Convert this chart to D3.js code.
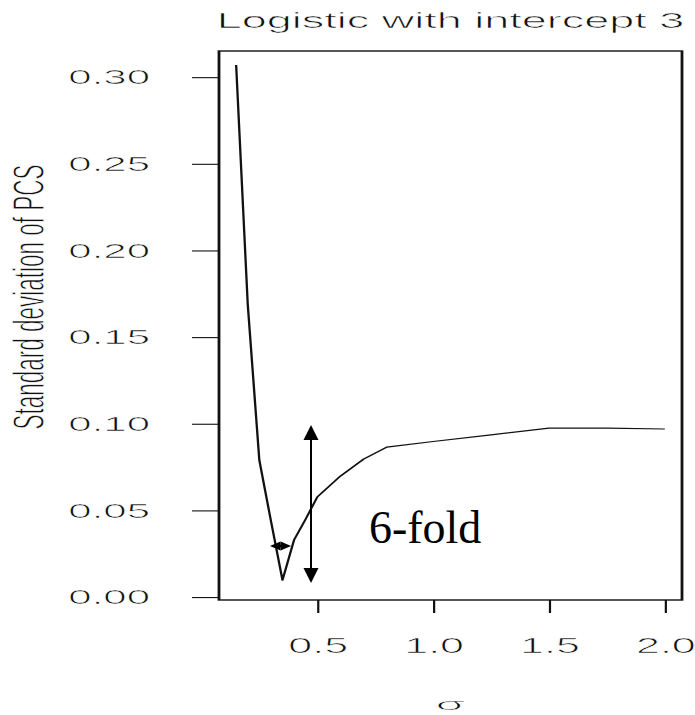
<!DOCTYPE html>
<html>
<head>
<meta charset="utf-8">
<script src="https://cdn.jsdelivr.net/npm/d3@7"></script>
<style>
  html, body { margin: 0; padding: 0; background: #fff; }
  svg { display: block; }
  .lbl { stroke: #fff; stroke-width: 0.6px; paint-order: fill stroke; }
</style>
</head>
<body>
<script>
// Standard deviation of PCS against sigma (logistic model, intercept 3)
const sigma  = [0.15, 0.20, 0.25, 0.30, 0.35, 0.40, 0.45, 0.50, 0.60, 0.70, 0.80, 1.00, 1.25, 1.50, 1.75, 2.00];
const sdPCS  = [0.307, 0.169, 0.079, 0.044, 0.0098, 0.033, 0.045, 0.0577, 0.0698, 0.0796, 0.0865, 0.0898, 0.0936, 0.0975, 0.0975, 0.097];
const xTicks = [0.5, 1.0, 1.5, 2.0];
const yTicks = [0.00, 0.05, 0.10, 0.15, 0.20, 0.25, 0.30];

// Annotation: vertical range arrow, small horizontal arrow, and its label
const foldArrow  = { x: 0.473, y0: 0.0081, y1: 0.0993 };
const widthArrow = { y: 0.0295, x0: 0.296, x1: 0.387 };
const foldLabel  = { x: 0.723, y: 0.0312, text: "6-fold" };

const W = 695, H = 715;
const SX = 2; // plot is drawn at half width and stretched horizontally
const plotL = 219, plotR = 682, plotT = 51, plotB = 600;

const xDomain = [0.076, 2.074];
const yDomain = [-0.0017, 0.3151];

const xPix  = d3.scaleLinear().domain(xDomain).range([plotL, plotR]);
const xHalf = d3.scaleLinear().domain(xDomain).range([plotL / SX, plotR / SX]);
const y     = d3.scaleLinear().domain(yDomain).range([plotB, plotT]);

const svg = d3.select("body").append("svg")
  .attr("width", W).attr("height", H)
  .attr("viewBox", `0 0 ${W} ${H}`);

svg.append("rect").attr("width", W).attr("height", H).attr("fill", "#fff");

const g = svg.append("g").attr("transform", `scale(${SX},1)`);
const font = "'Liberation Sans', Arial, Helvetica, sans-serif";

// Curve
const line = d3.line()
  .x((d, i) => xHalf(sigma[i]))
  .y(d => y(d));
g.append("path")
  .datum(sdPCS)
  .attr("d", line)
  .attr("fill", "none")
  .attr("stroke", "#111")
  .attr("stroke-width", 1.15)
  .attr("stroke-linejoin", "round");

// Y axis
const yAxis = g.append("g")
  .attr("transform", `translate(${plotL / SX},0)`)
  .call(d3.axisLeft(y).tickValues(yTicks).tickFormat(d3.format(".2f")).tickSize(13.5).tickPadding(21));
yAxis.select(".domain").remove();
yAxis.selectAll("line").attr("stroke", "#111").attr("stroke-width", 1.1);
yAxis.selectAll("text")
  .attr("class", "lbl")
  .attr("font-family", font).attr("font-size", 21).attr("fill", "#111");

// X axis
const xAxis = g.append("g")
  .attr("transform", `translate(0,${plotB})`)
  .call(d3.axisBottom(xHalf).tickValues(xTicks).tickFormat(d3.format(".1f")).tickSize(13).tickPadding(24.5));
xAxis.select(".domain").remove();
xAxis.selectAll("line").attr("stroke", "#111").attr("stroke-width", 1.1);
xAxis.selectAll("text")
  .attr("class", "lbl")
  .attr("font-family", font).attr("font-size", 21.5).attr("fill", "#111");

// Plot box
g.append("rect")
  .attr("x", plotL / SX).attr("y", plotT)
  .attr("width", (plotR - plotL) / SX).attr("height", plotB - plotT)
  .attr("fill", "none").attr("stroke", "#111").attr("stroke-width", 1.4);

// Title
g.append("text")
  .attr("class", "lbl")
  .attr("x", (plotL + plotR) / 2 / SX).attr("y", 28)
  .attr("text-anchor", "middle")
  .attr("font-family", font).attr("font-size", 22.5).attr("fill", "#111")
  .text("Logistic with intercept 3");

// Axis titles
g.append("text")
  .attr("class", "lbl")
  .attr("x", (plotL + plotR) / 2 / SX).attr("y", 710)
  .attr("text-anchor", "middle")
  .attr("font-family", font).attr("font-size", 17).attr("fill", "#111")
  .attr("textLength", 15).attr("lengthAdjust", "spacingAndGlyphs")
  .text("σ");

g.append("text")
  .attr("class", "lbl")
  .attr("transform", `translate(${44 / SX},297) rotate(-90)`)
  .attr("text-anchor", "middle")
  .attr("font-family", font).attr("font-size", 22.5).attr("fill", "#111")
  .text("Standard deviation of PCS");

// Annotations (drawn unstretched)
const ann = svg.append("g");

function arrowHead(x, yTip, dx, dy, len, half) {
  // tip at (x,yTip), pointing along (dx,dy)
  const bx = x - dx * len, by = yTip - dy * len;
  const px = -dy * half, py = dx * half;
  return `M${x},${yTip}L${bx + px},${by + py}L${bx - px},${by - py}Z`;
}

const ax = xPix(foldArrow.x), ay0 = y(foldArrow.y0), ay1 = y(foldArrow.y1);
ann.append("line")
  .attr("x1", ax).attr("x2", ax)
  .attr("y1", ay1 + 10).attr("y2", ay0 - 10)
  .attr("stroke", "#000").attr("stroke-width", 2);
ann.append("path").attr("d", arrowHead(ax, ay1, 0, -1, 15, 7.5)).attr("fill", "#000");
ann.append("path").attr("d", arrowHead(ax, ay0, 0, 1, 15, 7.5)).attr("fill", "#000");

const hy = y(widthArrow.y), hx0 = xPix(widthArrow.x0), hx1 = xPix(widthArrow.x1);
ann.append("line")
  .attr("x1", hx0 + 5).attr("x2", hx1 - 5)
  .attr("y1", hy).attr("y2", hy)
  .attr("stroke", "#000").attr("stroke-width", 2.5);
ann.append("path").attr("d", arrowHead(hx0, hy, -1, 0, 10.5, 4.5)).attr("fill", "#000");
ann.append("path").attr("d", arrowHead(hx1, hy, 1, 0, 10.5, 4.5)).attr("fill", "#000");

ann.append("text")
  .attr("x", xPix(foldLabel.x)).attr("y", y(foldLabel.y))
  .attr("font-family", "'Liberation Serif', 'Times New Roman', serif")
  .attr("font-size", 46).attr("fill", "#000")
  .text(foldLabel.text);
</script>
</body>
</html>
